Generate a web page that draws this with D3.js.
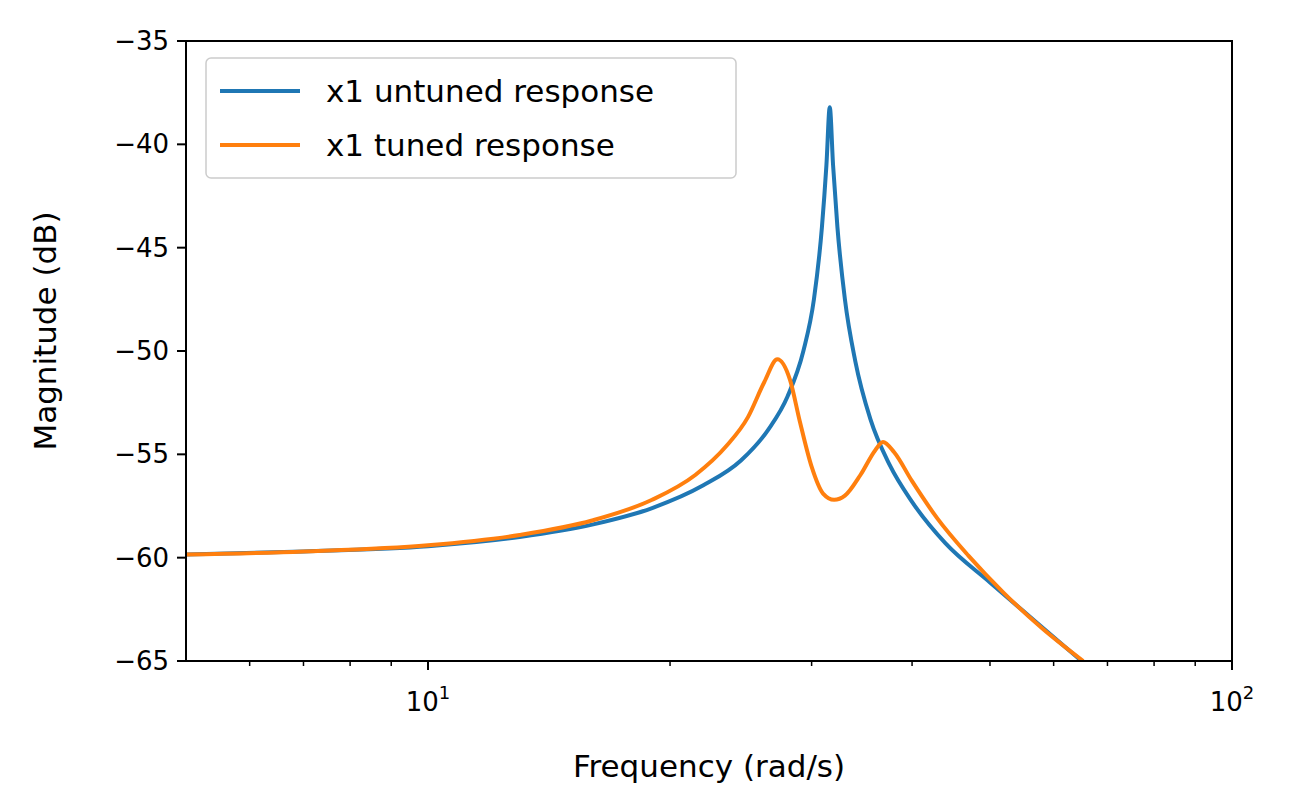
<!DOCTYPE html>
<html>
<head>
<meta charset="utf-8">
<script src="https://cdn.jsdelivr.net/npm/d3@7"></script>
<style>
  body { margin: 0; background: #fff; }
  text { font-family: "DejaVu Sans", sans-serif; }
</style>
</head>
<body>
<div id="chart"></div>
<script>
// values
var freqUntuned = [5, 7, 10, 13, 16, 19, 22, 24.5, 26.5, 28, 29.3, 30.2, 30.9, 31.3, 31.6, 31.9, 32.3, 33, 34, 35.5, 37.5, 40, 44, 50, 57, 65];
var magUntuned = [-59.85, -59.7, -59.45, -59.0, -58.4, -57.6, -56.5, -55.3, -53.8, -52.2, -50.0, -47.5, -44, -41, -38.2, -41, -44, -47.5, -50.5, -53.3, -55.5, -57.3, -59.3, -61.2, -63.1, -65];
var freqTuned = [5, 7, 10, 13, 16, 19, 21.5, 23.5, 25, 26.2, 27.2, 28.2, 29, 30, 31, 32, 33, 34.5, 36, 36.8, 38, 40, 43, 47, 52, 58, 65.3];
var magTuned = [-59.85, -59.7, -59.4, -58.9, -58.2, -57.2, -56, -54.6, -53.2, -51.5, -50.4, -51.4, -53.4, -55.6, -56.9, -57.2, -57.0, -56, -54.8, -54.4, -54.9, -56.3, -58.1, -59.9, -61.7, -63.4, -65];
var yTicks = [-65, -60, -55, -50, -45, -40, -35];
var minorTicks = [6, 7, 8, 9, 20, 30, 40, 50, 60, 70, 80, 90];

var svgWidth = 1308, svgHeight = 804;
var margin = { top: 41, right: 76, bottom: 143, left: 186 };
var width = svgWidth - margin.left - margin.right;
var height = svgHeight - margin.top - margin.bottom;

var svg = d3.select("#chart").append("svg")
  .attr("width", svgWidth).attr("height", svgHeight);
var g = svg.append("g").attr("transform", `translate(${margin.left},${margin.top})`);

var x = d3.scaleLog().domain([5, 100]).range([0, width]);
var y = d3.scaleLinear().domain([-65, -35]).range([height, 0]);

g.append("clipPath").attr("id", "clip").append("rect")
  .attr("width", width).attr("height", height);

var line = d3.line().x(d => x(d[0])).y(d => y(d[1])).curve(d3.curveMonotoneX);

g.append("path").datum(d3.zip(freqUntuned, magUntuned))
  .attr("d", line).attr("fill", "none").attr("stroke", "#1f77b4")
  .attr("stroke-width", 4).attr("clip-path", "url(#clip)");
g.append("path").datum(d3.zip(freqTuned, magTuned))
  .attr("d", line).attr("fill", "none").attr("stroke", "#ff7f0e")
  .attr("stroke-width", 4).attr("clip-path", "url(#clip)");

// y axis
var yAxis = g.append("g");
yTicks.forEach(function(t) {
  yAxis.append("line").attr("x1", -9).attr("x2", 0)
    .attr("y1", y(t)).attr("y2", y(t)).attr("stroke", "#000").attr("stroke-width", 2);
  yAxis.append("text").attr("x", -17).attr("y", y(t)).attr("dy", "0.35em")
    .attr("text-anchor", "end").style("font-size", "26px").text("\u2212" + Math.abs(t));
});

// x axis
var xAxis = g.append("g").attr("transform", `translate(0,${height})`);
minorTicks.forEach(function(t) {
  xAxis.append("line").attr("x1", x(t)).attr("x2", x(t)).attr("y1", 0).attr("y2", 5)
    .attr("stroke", "#000").attr("stroke-width", 1.5);
});
[10, 100].forEach(function(t) {
  xAxis.append("line").attr("x1", x(t)).attr("x2", x(t)).attr("y1", 0).attr("y2", 9)
    .attr("stroke", "#000").attr("stroke-width", 2);
  var tx = xAxis.append("text").attr("x", x(t)).attr("y", 50)
    .attr("text-anchor", "middle").style("font-size", "26px");
  tx.append("tspan").text("10");
  tx.append("tspan").attr("dy", -12).style("font-size", "18px").text(t === 10 ? "1" : "2");
});

g.append("rect").attr("width", width).attr("height", height)
  .attr("fill", "none").attr("stroke", "#000").attr("stroke-width", 2);

g.append("text").attr("x", width / 2).attr("y", height + 116)
  .attr("text-anchor", "middle").style("font-size", "31px").text("Frequency (rad/s)");
g.append("text").attr("transform", "rotate(-90)")
  .attr("x", -height / 2 + 20).attr("y", -130)
  .attr("text-anchor", "middle").style("font-size", "31px").text("Magnitude (dB)");

// legend
var legend = g.append("g").attr("transform", "translate(20,17)");
legend.append("rect").attr("width", 530).attr("height", 120).attr("rx", 5)
  .attr("fill", "#fff").attr("fill-opacity", 0.8).attr("stroke", "#ccc").attr("stroke-width", 1.5);
[["x1 untuned response", "#1f77b4"], ["x1 tuned response", "#ff7f0e"]].forEach(function(d, i) {
  var ly = 33 + i * 54;
  legend.append("line").attr("x1", 14).attr("x2", 94).attr("y1", ly).attr("y2", ly)
    .attr("stroke", d[1]).attr("stroke-width", 4);
  legend.append("text").attr("x", 120).attr("y", ly).attr("dy", "0.35em")
    .style("font-size", "31px").text(d[0]);
});
</script>
</body>
</html>
